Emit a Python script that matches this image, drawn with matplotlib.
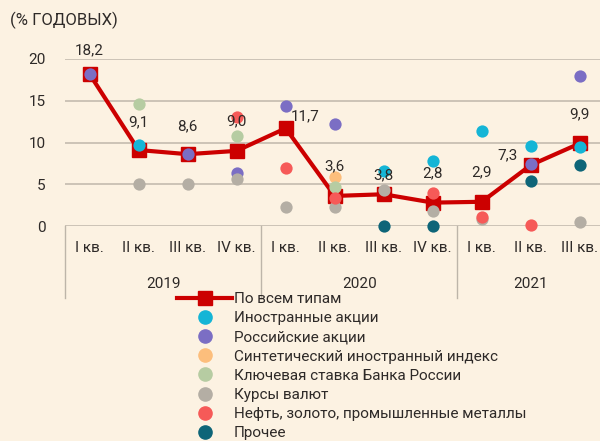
import matplotlib
matplotlib.use("Agg")
from matplotlib import pyplot as plt
from matplotlib.lines import Line2D

plt.rcParams['font.family'] = ['Roboto', 'DejaVu Sans']

quarters = ['I кв.', 'II кв.', 'III кв.', 'IV кв.',
            'I кв.', 'II кв.', 'III кв.', 'IV кв.',
            'I кв.', 'II кв.', 'III кв.']
years = ['2019', '2020', '2021']
year_len = [4, 4, 3]

total = [18.2, 9.1, 8.6, 9.0, 11.7, 3.6, 3.8, 2.8, 2.9, 7.3, 9.9]
total_labels = ['18,2', '9,1', '8,6', '9,0', '11,7', '3,6', '3,8', '2,8', '2,9', '7,3', '9,9']

# dots: (quarter index, value)
foreign_stocks = [(1, 9.7), (6, 6.6), (7, 7.8), (8, 11.4), (9, 9.6), (10, 9.5)]
russian_stocks = [(0, 18.2), (2, 8.6), (3, 6.4), (4, 14.4), (5, 12.2), (9, 7.4), (10, 18.0)]
synthetic_index = [(5, 5.9)]
key_rate = [(1, 14.6), (3, 10.8), (5, 4.7)]
fx_rates = [(1, 5.0), (2, 5.0), (3, 5.6), (4, 2.3), (5, 2.3), (6, 4.3), (7, 1.8), (8, 0.8), (10, 0.5)]
commodities = [(3, 13.1), (4, 6.9), (5, 3.4), (7, 3.9), (8, 1.1), (9, 0.1)]
other = [(6, 0.0), (7, 0.0), (9, 5.4), (10, 7.3)]

series = [
    ('Иностранные акции', foreign_stocks, '#14B5D6'),
    ('Российские акции', russian_stocks, '#7B6EC4'),
    ('Синтетический иностранный индекс', synthetic_index, '#FCBE7C'),
    ('Ключевая ставка Банка России', key_rate, '#B6CCA2'),
    ('Курсы валют', fx_rates, '#B4AEA4'),
    ('Нефть, золото, промышленные металлы', commodities, '#F65A58'),
    ('Прочее', other, '#0E6578'),
]

# label offsets in points (dx, dy)
label_offsets = [(0, 17), (0, 20), (0, 20), (0, 21), (14, 9), (0, 21),
                 (0, 14), (0, 21), (0, 21), (-17, 7), (0, 21)]

bg = '#FCF2E2'
red = '#CC0000'
txt = '#2E2A28'

fig = plt.figure(figsize=(6, 4.41), dpi=100, facecolor=bg)
ax = fig.add_axes([65 / 600, 1 - 226 / 441, 1 - 65 / 600, 167 / 441])
ax.set_facecolor(bg)

x = list(range(len(total)))
ax.plot(x, total, color=red, lw=3, marker='s', ms=10.5, zorder=3, clip_on=False)

for name, pts, col in series:
    ax.scatter([p[0] for p in pts], [p[1] for p in pts], s=78, color=col,
               zorder=4, clip_on=False, linewidths=0)

for i, v in enumerate(total):
    dx, dy = label_offsets[i]
    ax.annotate(total_labels[i], (i, v), xytext=(dx, dy), textcoords='offset points',
                ha='center', va='center', fontsize=11, color=txt, zorder=6)

ax.set_xlim(-0.5, 10.41)
ax.set_ylim(0, 20)
ax.set_yticks([0, 5, 10, 15, 20])
ax.set_yticklabels(['0', '5', '10', '15', '20'])
ax.tick_params(axis='y', length=0, pad=14, labelsize=11, labelcolor=txt)
ax.set_xticks([])
ax.grid(axis='y', color='#C9C0B3', lw=1.3)
ax.set_axisbelow(True)
for s in ax.spines.values():
    s.set_visible(False)

# category axis
tr = ax.get_xaxis_transform()
for i, q in enumerate(quarters):
    ax.text(i, -0.132, q, transform=tr, ha='center', va='center', fontsize=11, color=txt)
start = 0
seps = [-0.5]
for y, n in zip(years, year_len):
    ax.text(start + (n - 1) / 2, -0.345, y, transform=tr, ha='center', va='center',
            fontsize=11, color=txt)
    start += n
    seps.append(start - 0.5)
for s in seps[:-1]:
    ax.plot([s, s], [0, -0.43], transform=tr, color='#BDB5A9', lw=1, clip_on=False)

fig.text(10 / 600, 1 - 20 / 441, '(% ГОДОВЫХ)', fontsize=12, color=txt,
         ha='left', va='center')

handles = [Line2D([], [], color=red, lw=3, marker='s', ms=10.5)]
labels = ['По всем типам']
for name, pts, col in series:
    handles.append(Line2D([], [], color=col, lw=0, marker='o', ms=9.5))
    labels.append(name)
fig.legend(handles, labels, loc='upper left', bbox_to_anchor=(177 / 600, 1 - 292 / 441),
           frameon=False, fontsize=11, labelcolor=txt, handlelength=3.6,
           handletextpad=0.1, labelspacing=0.34, borderpad=0, borderaxespad=0)

plt.savefig('out.png', dpi=100, facecolor=bg)
